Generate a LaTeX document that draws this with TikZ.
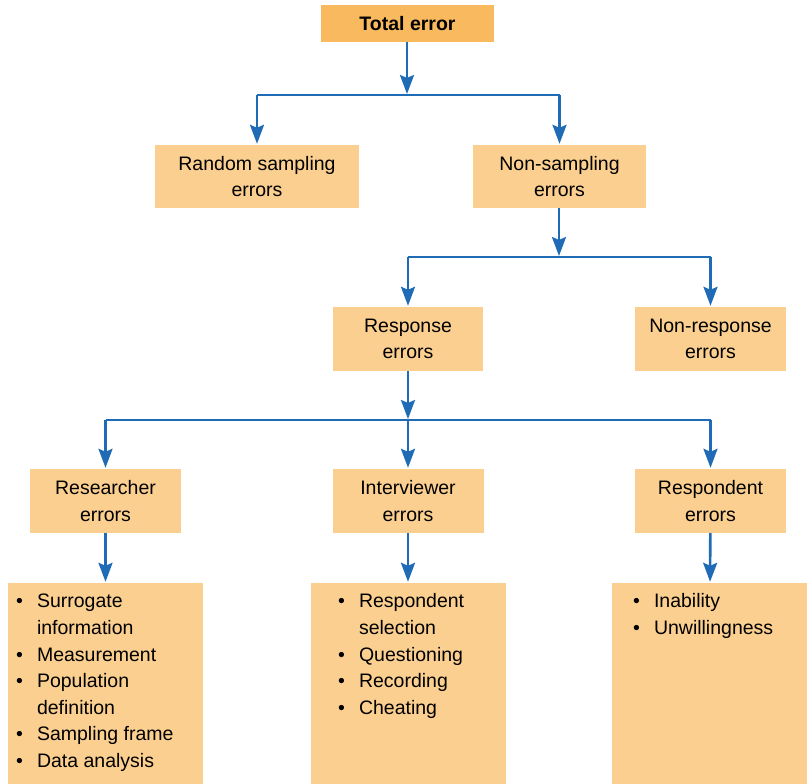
\documentclass[tikz,border=0pt]{standalone}
\usepackage{fontspec}
\setmainfont{Liberation Sans}
\usetikzlibrary{arrows.meta}
\definecolor{boxfill}{HTML}{FBCF8F}
\definecolor{topfill}{HTML}{F9B95F}
\definecolor{linkblue}{HTML}{1F6BB5}
\newcommand{\bulletlist}[1]{\begin{tabular}{@{}l@{\hspace{14pt}}l@{}}#1\end{tabular}}
\begin{document}
\begin{tikzpicture}[
	x=1pt,y=-1pt,
	font=\fontsize{19.5}{26.6}\selectfont,
	box/.style={fill=boxfill,align=center,inner sep=0pt,minimum height=63},
	listbox/.style={fill=boxfill,inner sep=0pt,minimum height=201,minimum width=195},
	link/.style={draw=linkblue,line width=2.6pt,-{Stealth[length=19pt,width=14pt,inset=3pt]},shorten >=1pt},
	rail/.style={draw=linkblue,line width=2.6pt},
	items/.style={anchor=north west,inner sep=0pt,align=left}
	]
	\useasboundingbox (0,0) rectangle (807,784);
	% level 0
	\node[box,fill=topfill,minimum width=173,minimum height=37,font=\fontsize{19.5}{26.6}\selectfont\bfseries] (total) at (407.5,23.5) {Total error};
	% level 1
	\node[box,minimum width=204] (random) at (257,176.5) {Random sampling\\errors};
	\node[box,minimum width=173] (nonsampling) at (559.5,176.5) {Non-sampling\\errors};
	% level 2
	\node[box,minimum width=150,minimum height=64] (response) at (408,339) {Response\\errors};
	\node[box,minimum width=151,minimum height=64] (nonresponse) at (710.5,339) {Non-response\\errors};
	% level 3
	\node[box,minimum width=151,minimum height=64] (researcher) at (105.5,501) {Researcher\\errors};
	\node[box,minimum width=151,minimum height=64] (interviewer) at (408,501) {Interviewer\\errors};
	\node[box,minimum width=151,minimum height=64] (respondent) at (710.5,501) {Respondent\\errors};
	% lists
	\node[listbox] (researcherlist) at (105.5,683.5) {};
	\node[listbox] (interviewerlist) at (408,683.5) {};
	\node[listbox] (respondentlist) at (709.5,683.5) {};
	\node[items] (researcheritems) at (16,589) {\bulletlist{\textbullet & Surrogate\\ & information\\ \textbullet & Measurement\\ \textbullet & Population\\ & definition\\ \textbullet & Sampling frame\\ \textbullet & Data analysis}};
	\node[items] (intervieweritems) at (338,589) {\bulletlist{\textbullet & Respondent\\ & selection\\ \textbullet & Questioning\\ \textbullet & Recording\\ \textbullet & Cheating}};
	\node[items] (respondentitems) at (633,589) {\bulletlist{\textbullet & Inability\\ \textbullet & Unwillingness}};
	% junctions
	\coordinate (j1) at (407,95);
	\coordinate (j2) at (559,257);
	\coordinate (j3) at (408,420);
	\draw[link] (total.south -| j1) -- (j1);
	\draw[rail] (random.north |- j1) -- (nonsampling.north |- j1);
	\draw[link] (j1 -| random.north) -- (random.north);
	\draw[link] (j1 -| nonsampling.north) -- (nonsampling.north);
	\draw[link] (nonsampling.south -| j2) -- (j2);
	\draw[rail] (response.north |- j2) -- (nonresponse.north |- j2);
	\draw[link] (j2 -| response.north) -- (response.north);
	\draw[link] (j2 -| nonresponse.north) -- (nonresponse.north);
	\draw[link] (response.south) -- (j3);
	\draw[rail] (researcher.north |- j3) -- (respondent.north |- j3);
	\draw[link] (j3) -- (interviewer.north);
	\draw[link] (j3 -| researcher.north) -- (researcher.north);
	\draw[link] (j3 -| respondent.north) -- (respondent.north);
	\draw[link] (researcher) -- (researcherlist);
	\draw[link] (interviewer) -- (interviewerlist);
	\draw[link] (respondent) -- (respondentlist);
\end{tikzpicture}
\end{document}
